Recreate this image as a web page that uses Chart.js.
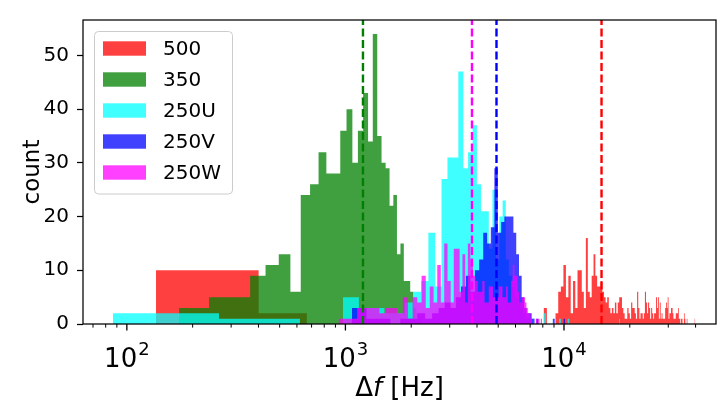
<!DOCTYPE html>
<html>
<head>
<meta charset="utf-8">
<script src="https://cdn.jsdelivr.net/npm/chart.js@4.4.0/dist/chart.umd.min.js"></script>
<style>
  html, body { margin: 0; padding: 0; background: #fff; }
  #wrap { width: 717px; height: 405px; }
</style>
</head>
<body>
<div id="wrap"><canvas id="c" width="717" height="405"></canvas></div>
<script>
// histogram bins: first edge, bin width and counts for every series
const seriesLabels = ['500', '350', '250U', '250V', '250W'];
const binStarts = [135.8, 173, 86.3, 1071, 931];
const binWidths = [265, 64.5, 177.7, 177.7, 100];

const counts500 = [
  10, 2, 0, 0, 0, 0, 0, 0, 0, 0,
  0, 0, 0, 0, 0, 0, 0, 0, 0, 0,
  0, 0, 0, 0, 0, 0, 0, 0, 0, 0,
  3, 0, 0, 0, 2, 6, 7, 11, 5, 9,
  2, 8, 3, 10, 10, 6, 3, 16, 6, 5,
  9, 13, 9, 7, 7, 8, 6, 5, 4, 5,
  3, 2, 3, 2, 4, 2, 4, 5, 5, 3,
  2, 1, 1, 3, 2, 1, 4, 3, 3, 2,
  1, 6, 3, 1, 2, 2, 1, 2, 6, 4,
  2, 4, 3, 1, 3, 2, 1, 2, 2, 5,
  3, 5, 1, 4, 1, 2, 1, 1, 1, 3,
  4, 3, 5, 1, 2, 2, 3, 3, 2, 1,
  1, 1, 2, 2, 2, 3, 1, 1, 0, 1,
  1, 0, 0, 2, 1, 0, 0, 1, 0, 0,
  0, 0, 0, 0, 0, 0, 0, 0, 0, 1
];
const counts350 = [
  3, 5, 5, 9, 11, 13, 6, 24, 26, 32,
  28, 28, 36, 40, 30, 36, 43, 34, 54, 35,
  30, 29, 22, 24, 13, 15, 8, 8, 6, 3,
  2, 1
];
const counts250U = [
  2, 1, 1, 0, 0, 5, 3, 3, 2, 2,
  4, 6, 8, 17, 7, 27, 31, 31, 47, 29,
  32, 37, 26, 21, 21, 14, 25, 12, 20, 23,
  12, 9, 7, 5, 4, 3, 2, 1, 1, 0,
  1, 0, 0, 0, 0, 2, 0, 0, 0, 0,
  0, 0, 0, 1, 0, 0, 0, 0, 1, 0,
  0, 0, 0, 0, 0, 0, 0, 0, 0, 0,
  0, 0, 0, 0, 0, 0, 0, 0, 0, 0,
  0, 0, 0, 0, 0, 0, 0, 0, 0, 0,
  0, 0, 0, 0, 0, 0, 0, 0, 0, 0,
  1
];
const counts250V = [
  3, 1, 1, 0, 1, 1, 2, 1, 2, 3,
  4, 3, 5, 7, 9, 6, 10, 12, 17, 15,
  18, 29, 17, 19, 20, 20, 20, 17, 13, 9,
  5, 3, 2, 2, 1, 0, 1, 0, 0, 0,
  0, 0, 0, 0, 1, 0, 0, 0, 0, 0,
  1
];
const counts250W = [
  1, 1, 3, 3, 3, 2, 3, 3, 2, 5,
  1, 5, 4, 9, 3, 7, 4, 11, 4, 15,
  8, 4, 14, 14, 6, 13, 4, 15, 12, 9,
  8, 6, 6, 8, 4, 4, 7, 7, 5, 5,
  5, 7, 7, 5, 5, 7, 4, 4, 8, 11,
  9, 9, 6, 4, 4, 5, 5, 4, 3, 2,
  2, 1, 0, 1, 0, 1, 0, 1, 0, 1
];

// dashed vertical markers
const markerSeries = ['500', '350', '250V', '250W'];
const markerValues = [14850, 1203, 4911, 3793];

const yTickValues = [0, 10, 20, 30, 40, 50];
const xMajorTicks = [100, 1000, 10000];
const xTickBase = '10';
const xTickExps = ['2', '3', '4'];

const allCounts = [counts500, counts350, counts250U, counts250V, counts250W];
const fills = ['rgba(255,0,0,0.75)', 'rgba(0,128,0,0.75)', 'rgba(0,255,255,0.75)',
               'rgba(0,0,255,0.75)', 'rgba(255,0,255,0.75)'];
const lineColors = { '500': '#ff0000', '350': '#008000', '250V': '#0000ff', '250W': '#ff00ff' };
const FONT = "'DejaVu Sans', sans-serif";

// step outline of a histogram: value i holds from edge i to edge i+1
function histPoints(start, width, counts) {
  const pts = counts.map((c, i) => ({ x: start + width * i, y: c }));
  pts.push({ x: start + width * counts.length, y: 0 });
  return pts;
}

const datasets = seriesLabels.map((label, i) => ({
  label,
  data: histPoints(binStarts[i], binWidths[i], allCounts[i]),
  stepped: 'before',
  fill: 'origin',
  backgroundColor: fills[i],
  borderColor: 'rgba(0,0,0,0)',
  borderWidth: 0,
  pointRadius: 0,
  order: 10 - i
}));

markerSeries.forEach((s, i) => {
  datasets.push({
    label: 'mean ' + s,
    data: [{ x: markerValues[i], y: 0 }, { x: markerValues[i], y: 60 }],
    borderColor: lineColors[s],
    borderWidth: 2.4,
    borderDash: [8, 3.5],
    pointRadius: 0,
    fill: false,
    order: 1,
    isMarker: true
  });
});

const decorations = {
  id: 'decorations',
  afterDatasetsDraw(chart) {
    const { ctx, chartArea: a, scales: { x, y } } = chart;
    ctx.save();

    // axes box
    ctx.strokeStyle = '#000';
    ctx.lineWidth = 1.25;
    ctx.strokeRect(a.left, a.top, a.right - a.left, a.bottom - a.top);

    // x ticks: majors and minors on the log axis
    const lo = x.min, hi = x.max;
    for (let d = 10; d <= 100000; d *= 10) {
      for (let m = 1; m <= 9; m++) {
        const v = d * m;
        if (v < lo || v > hi) continue;
        const px = x.getPixelForValue(v);
        const major = m === 1;
        ctx.lineWidth = major ? 1.3 : 1;
        ctx.beginPath();
        ctx.moveTo(px, a.bottom);
        ctx.lineTo(px, a.bottom + (major ? 6.5 : 3.6));
        ctx.stroke();
      }
    }

    // x tick labels 10^n
    ctx.fillStyle = '#000';
    ctx.textBaseline = 'alphabetic';
    ctx.textAlign = 'left';
    xMajorTicks.forEach((v, i) => {
      const px = x.getPixelForValue(v);
      ctx.font = '26px ' + FONT;
      const wb = ctx.measureText(xTickBase).width;
      ctx.font = '18px ' + FONT;
      const we = ctx.measureText(xTickExps[i]).width;
      const x0 = px - (wb + we + 1) / 2;
      ctx.font = '26px ' + FONT;
      ctx.fillText(xTickBase, x0, 367);
      ctx.font = '18px ' + FONT;
      ctx.fillText(xTickExps[i], x0 + wb + 1, 355);
    });

    // x title: Δf [Hz]
    const parts = [['Δ', '26px '], ['f', 'oblique 26px '], [' [Hz]', '26px ']];
    let total = 0;
    parts.forEach(p => { ctx.font = p[1] + FONT; total += ctx.measureText(p[0]).width; });
    let cx = (a.left + a.right) / 2 - total / 2;
    parts.forEach(p => {
      ctx.font = p[1] + FONT;
      ctx.fillText(p[0], cx, 396);
      cx += ctx.measureText(p[0]).width;
    });

    // y title
    ctx.save();
    ctx.translate(33, (a.top + a.bottom) / 2);
    ctx.rotate(-Math.PI / 2);
    ctx.textAlign = 'center';
    ctx.textBaseline = 'middle';
    ctx.font = '23px ' + FONT;
    ctx.fillText('count', 0, 0);
    ctx.restore();

    // legend box
    const lx = a.left + 11.5, ly = a.top + 11.5, lw = 138, lh = 162.5, r = 4;
    ctx.beginPath();
    ctx.moveTo(lx + r, ly);
    ctx.arcTo(lx + lw, ly, lx + lw, ly + lh, r);
    ctx.arcTo(lx + lw, ly + lh, lx, ly + lh, r);
    ctx.arcTo(lx, ly + lh, lx, ly, r);
    ctx.arcTo(lx, ly, lx + lw, ly, r);
    ctx.closePath();
    ctx.fillStyle = 'rgba(255,255,255,0.8)';
    ctx.fill();
    ctx.strokeStyle = '#cccccc';
    ctx.lineWidth = 1;
    ctx.stroke();

    ctx.font = '20px ' + FONT;
    ctx.textBaseline = 'middle';
    ctx.textAlign = 'left';
    chart.data.datasets.forEach((ds, i) => {
      if (ds.isMarker) return;
      const cy = ly + 17 + i * 31;
      ctx.fillStyle = ds.backgroundColor;
      ctx.fillRect(lx + 8.5, cy - 7.2, 43, 14.4);
      ctx.fillStyle = '#000';
      ctx.fillText(ds.label, lx + 68.5, cy + 1);
    });

    ctx.restore();
  }
};

new Chart(document.getElementById('c'), {
  type: 'line',
  data: { datasets },
  options: {
    responsive: false,
    animation: false,
    devicePixelRatio: 1,
    layout: { padding: { left: 0, top: 7, right: 1, bottom: 0 } },
    plugins: { legend: { display: false }, tooltip: { enabled: false } },
    scales: {
      x: {
        type: 'logarithmic',
        min: 63,
        max: 49600,
        ticks: { display: false },
        grid: { display: false },
        border: { display: false },
        afterFit: (s) => { s.height = 81; }
      },
      y: {
        type: 'linear',
        min: 0,
        max: 56.6,
        afterBuildTicks: (s) => { s.ticks = yTickValues.map(v => ({ value: v })); },
        ticks: { color: '#000', font: { family: FONT, size: 20 }, padding: 8 },
        grid: { drawOnChartArea: false, drawTicks: true, tickLength: 6, color: '#000', tickWidth: 1.25 },
        border: { display: false },
        afterFit: (s) => { s.width = 83; }
      }
    }
  },
  plugins: [decorations]
});
</script>
</body>
</html>
